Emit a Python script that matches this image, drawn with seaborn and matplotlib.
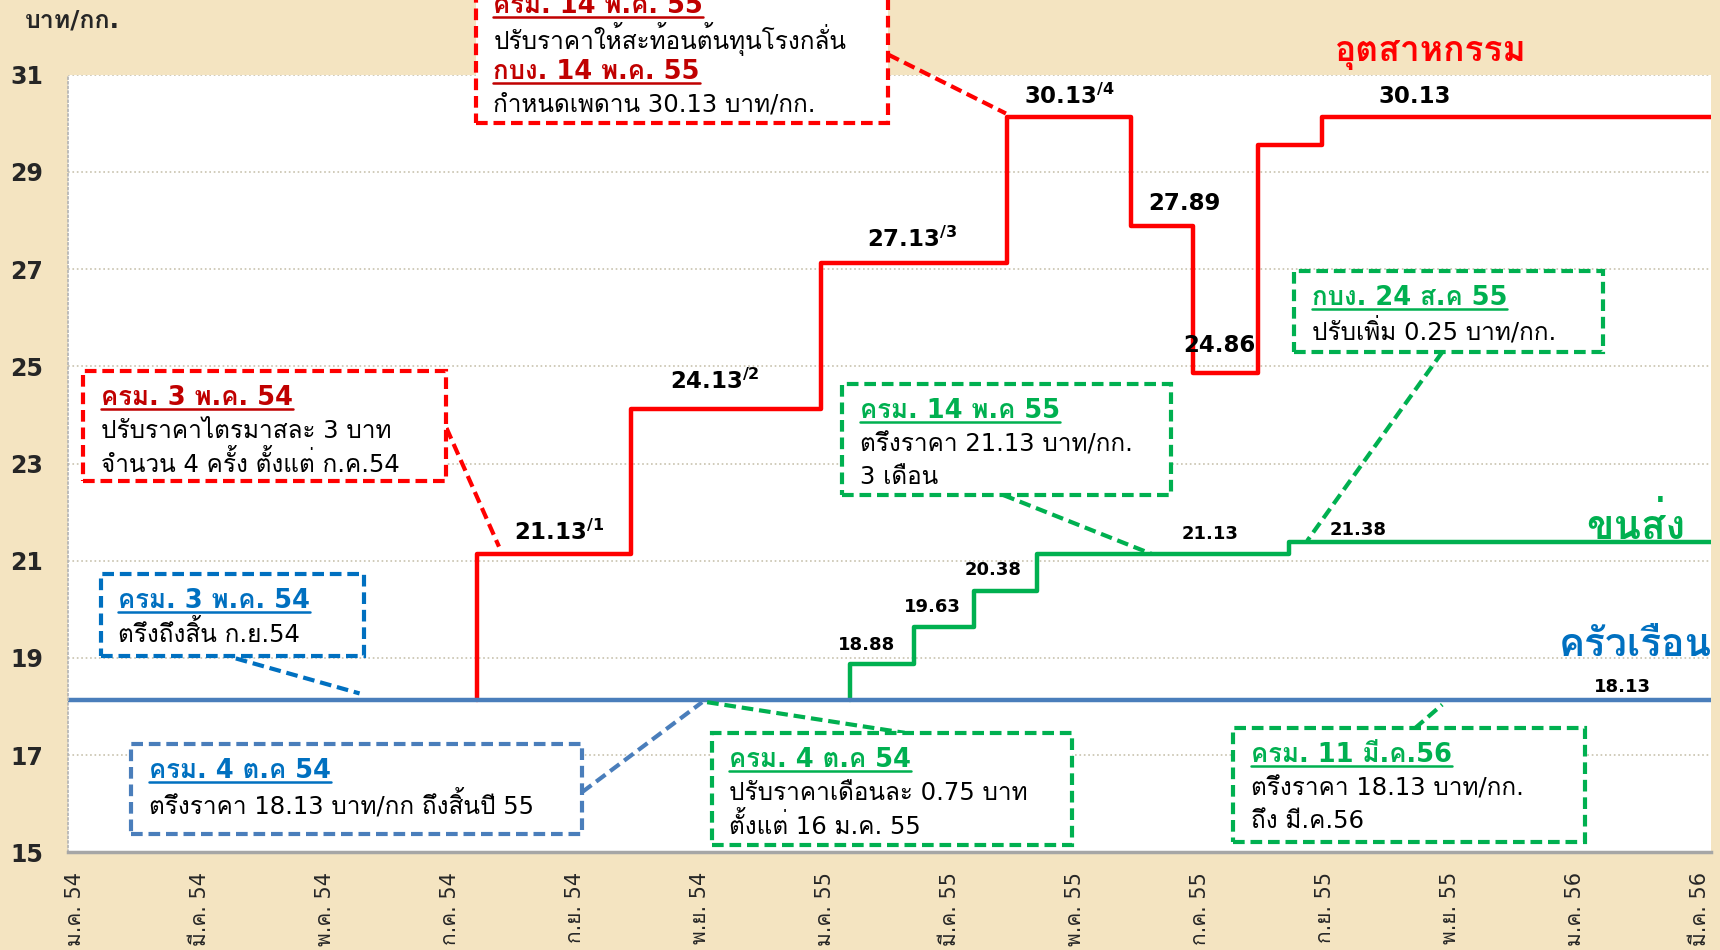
import numpy as np
import pandas as pd
import seaborn as sns
import matplotlib.pyplot as plt
from matplotlib import font_manager
from matplotlib.ft2font import FT2Font
from matplotlib.patches import Rectangle
from matplotlib.lines import Line2D

# --- data (month 0 = ม.ค. 54) ---
tick_months = np.arange(0, 27, 2)
tick_labels = ['ม.ค. 54', 'มี.ค. 54', 'พ.ค. 54', 'ก.ค. 54', 'ก.ย. 54', 'พ.ย. 54',
               'ม.ค. 55', 'มี.ค. 55', 'พ.ค. 55', 'ก.ค. 55', 'ก.ย. 55', 'พ.ย. 55',
               'ม.ค. 56', 'มี.ค. 56']

household_month = [-0.2, 26.3]
household_price = [18.13, 18.13]

transport_month = [12.41, 12.41, 13.43, 14.39, 15.40, 19.43, 26.3]
transport_price = [18.13, 18.88, 19.63, 20.38, 21.13, 21.38, 21.38]

industry_month = [6.44, 6.44, 8.90, 11.94, 14.92, 16.90, 17.90, 18.93, 19.96, 26.3]
industry_price = [18.13, 21.13, 24.13, 27.13, 30.13, 27.89, 24.86, 29.55, 30.13, 30.13]

# --- fonts: find something that can draw Thai (looped faces first, like Tahoma) ---
def thai_fonts():
    names = []
    for f in font_manager.fontManager.ttflist:
        try:
            if 0x0E01 in FT2Font(f.fname).get_charmap() and f.name not in names:
                names.append(f.name)
        except Exception:
            pass
    pref = ['Tahoma', 'Loma', 'Noto Sans Thai Looped', 'Garuda', 'Waree',
            'Tlwg Typo', 'Norasi', 'Noto Sans Thai']
    names.sort(key=lambda n: pref.index(n) if n in pref else len(pref))
    return names

TH = thai_fonts()
FAMILY = ['DejaVu Sans'] + TH[:1]

sns.set_theme(style='white')
plt.rcParams['font.family'] = FAMILY
plt.rcParams['mathtext.default'] = 'regular'

RED = '#ff0000'
DRED = '#c00000'
GREEN = '#00b050'
BLUE = '#4a7ebb'
DBLUE = '#0070c0'
BG = '#f4e4c1'

fig = plt.figure(figsize=(17.2, 9.5), dpi=100, facecolor=BG)
ax = fig.add_axes([68 / 1720, 1 - 852.4 / 950, (1711 - 68) / 1720, (852.4 - 74.6) / 950])
ax.set_facecolor('white')

ind = pd.DataFrame({'month': industry_month, 'price': industry_price})
trn = pd.DataFrame({'month': transport_month, 'price': transport_price})
hh = pd.DataFrame({'month': household_month, 'price': household_price})

sns.lineplot(data=ind, x='month', y='price', ax=ax, color=RED, lw=3.2,
             drawstyle='steps-post', estimator=None, sort=False, legend=False)
sns.lineplot(data=trn, x='month', y='price', ax=ax, color=GREEN, lw=3.2,
             drawstyle='steps-post', estimator=None, sort=False, legend=False)
sns.lineplot(data=hh, x='month', y='price', ax=ax, color=BLUE, lw=3.2,
             drawstyle='steps-post', estimator=None, sort=False, legend=False)

ax.set_xlim(-0.105, 26.18)
ax.set_ylim(15, 31)
ax.set_xlabel('')
ax.set_ylabel('')
ax.set_yticks(np.arange(15, 32, 2))
ax.set_yticklabels([str(v) for v in range(15, 32, 2)], fontsize=17, fontweight='bold')
ax.set_xticks(tick_months)
ax.set_xticklabels(tick_labels, rotation=90, fontsize=15, va='top', ha='center')
ax.tick_params(axis='y', length=0, pad=18)
ax.tick_params(axis='x', length=0, pad=14)
ax.yaxis.grid(True, linestyle=':', color='#c8c2ae', lw=1.2)
ax.xaxis.grid(False)
for s in ['top', 'right']:
    ax.spines[s].set_visible(False)
ax.spines['left'].set_color('#b5b5b5')
ax.spines['left'].set_linestyle(':')
ax.spines['bottom'].set_color('#a6a6a6')
ax.spines['bottom'].set_linewidth(2.5)

fig.text(72 / 1720, 1 - 20 / 950, 'บาท/กก.', fontsize=18, fontweight='bold',
         ha='center', va='center')

# value labels on the steps
def lab(x, y, s, size=16.5, color='black'):
    ax.text(x, y, s, fontsize=size, fontweight='bold', color=color,
            ha='center', va='center', clip_on=False)

lab(7.75, 21.59, r'21.13$^{/1}$')
lab(10.25, 24.70, r'24.13$^{/2}$')
lab(13.40, 27.61, r'27.13$^{/3}$')
lab(15.91, 30.55, r'30.13$^{/4}$')
lab(21.44, 30.55, '30.13')
lab(17.75, 28.34, '27.89')
lab(18.32, 25.42, '24.86')
lab(12.67, 19.26, '18.88', 13)
lab(13.72, 20.05, '19.63', 13)
lab(14.70, 20.80, '20.38', 13)
lab(18.16, 21.56, '21.13', 13)
lab(20.53, 21.63, '21.38', 13)
lab(24.77, 18.40, '18.13', 13)

# series names
lab(21.70, 31.45, 'อุตสาหกรรม', 25.5, RED)
lab(24.97, 21.70, 'ขนส่ง', 29, GREEN)
lab(24.97, 19.26, 'ครัวเรือน', 28, DBLUE)

# annotation boxes: (x0, x1, y0, y1, edge, title colour, lines, connector)
boxes = [
    (6.42, 13.02, 30.0, 32.97, RED, DRED,
     [('ครม. 14 พ.ค. 55', 1), ('ปรับราคาให้สะท้อนต้นทุนโรงกลั่น', 0),
      ('กบง. 14 พ.ค. 55', 1), ('กำหนดเพดาน 30.13 บาท/กก.', 0)],
     ((13.02, 31.41), (14.9, 30.2))),
    (0.14, 5.95, 22.65, 24.9, RED, DRED,
     [('ครม. 3 พ.ค. 54', 1), ('ปรับราคาไตรมาสละ 3 บาท', 0),
      ('จำนวน 4 ครั้ง ตั้งแต่ ก.ค.54', 0)],
     ((5.95, 23.73), (6.79, 21.29))),
    (0.42, 4.63, 19.04, 20.73, DBLUE, DBLUE,
     [('ครม. 3 พ.ค. 54', 1), ('ตรึงถึงสิ้น ก.ย.54', 0)],
     ((2.58, 18.99), (4.56, 18.27))),
    (0.91, 8.12, 15.38, 17.23, BLUE, DBLUE,
     [('ครม. 4 ต.ค 54', 1), ('ตรึงราคา 18.13 บาท/กก ถึงสิ้นปี 55', 0)],
     ((8.12, 16.24), (10.04, 18.09))),
    (10.19, 15.96, 15.15, 17.46, GREEN, GREEN,
     [('ครม. 4 ต.ค 54', 1), ('ปรับราคาเดือนละ 0.75 บาท', 0),
      ('ตั้งแต่ 16 ม.ค. 55', 0)],
     ((10.12, 18.09), (13.28, 17.46))),
    (12.28, 17.54, 22.35, 24.63, GREEN, GREEN,
     [('ครม. 14 พ.ค 55', 1), ('ตรึงราคา 21.13 บาท/กก.', 0), ('3 เดือน', 0)],
     ((14.86, 22.35), (17.23, 21.14))),
    (19.51, 24.46, 25.29, 26.96, GREEN, GREEN,
     [('กบง. 24 ส.ค 55', 1), ('ปรับเพิ่ม 0.25 บาท/กก.', 0)],
     ((21.88, 25.29), (19.72, 21.41))),
    (18.54, 24.16, 15.22, 17.55, GREEN, GREEN,
     [('ครม. 11 มี.ค.56', 1), ('ตรึงราคา 18.13 บาท/กก.', 0), ('ถึง มี.ค.56', 0)],
     ((21.44, 17.55), (21.88, 18.04))),
]

titles = []
for x0, x1, y0, y1, ec, tc, lines, (p, q) in boxes:
    ax.add_patch(Rectangle((x0, y0), x1 - x0, y1 - y0, fill=True, fc='white',
                           ec=ec, lw=3, ls=(0, (2.8, 1.4)), zorder=5, clip_on=False))
    ax.plot([p[0], q[0]], [p[1], q[1]], color=ec, lw=3, ls=(0, (2.8, 1.4)),
            zorder=4, clip_on=False)
    ty = y1 - 0.55
    for s, is_title in lines:
        if is_title:
            t = ax.text(x0 + 0.28, ty, s, fontsize=18.5, fontweight='bold', color=tc,
                        ha='left', va='center', zorder=6, clip_on=False)
            titles.append((t, tc))
        else:
            ax.text(x0 + 0.28, ty, s, fontsize=17.5, color='black',
                    ha='left', va='center', zorder=6, clip_on=False)
        ty -= 0.68

# underline titles
fig.canvas.draw()
r = fig.canvas.get_renderer()
W, H = fig.bbox.width, fig.bbox.height
for t, c in titles:
    bb = t.get_window_extent(r)
    yy = (bb.y0 + 2) / H
    fig.add_artist(Line2D([bb.x0 / W, bb.x1 / W], [yy, yy], color=c, lw=1.8, zorder=7))

fig.savefig('out.png', dpi=100, facecolor=BG)
